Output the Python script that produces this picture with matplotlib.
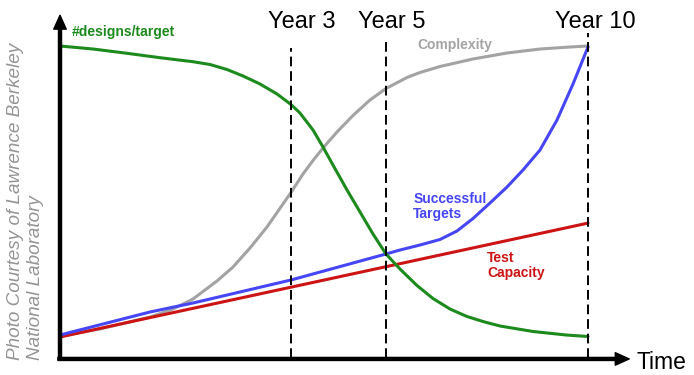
import matplotlib
matplotlib.use("Agg")
import matplotlib.pyplot as plt

# ---- data (schematic units: time 0..100, value 0..100) ----
designs_x = [0, 6.25, 12.69, 18.94, 25.19, 28.41, 31.63, 34.66, 37.88, 41.10, 43.75,
             45.45, 47.92, 49.81, 51.70, 54.36, 56.82, 59.28, 61.74, 64.39, 67.61,
             70.64, 73.86, 77.08, 80.11, 83.33, 89.58, 95.83, 100]
designs_y = [99.68, 98.72, 97.35, 95.94, 94.66, 93.77, 92.17, 90.10, 87.54, 84.35, 80.99,
             78.27, 72.84, 67.41, 61.66, 53.67, 46.65, 39.62, 33.23, 28.43, 23.16,
             19.01, 15.65, 13.26, 11.66, 10.22, 8.47, 7.35, 6.87]

complexity_x = [0, 7.58, 17.05, 21.21, 25.19, 29.73, 32.77, 35.98, 39.20, 42.23, 43.75,
                46.02, 47.92, 49.81, 52.46, 55.49, 58.71, 61.74, 65.72, 68.18, 71.97,
                78.22, 84.66, 90.91, 96.59, 100]
complexity_y = [7.03, 9.27, 13.10, 15.50, 18.85, 24.60, 29.07, 35.14, 41.85, 49.20, 52.88,
                58.79, 63.10, 67.09, 72.20, 77.48, 82.43, 86.10, 89.62, 91.21, 93.13,
                95.53, 97.44, 98.72, 99.36, 99.68]

targets_x = [0, 17.05, 25.19, 43.75, 61.74, 64.39, 68.18, 71.97, 75.19, 78.22, 81.44,
             84.66, 87.69, 90.91, 94.13, 97.16, 100]
targets_y = [7.35, 14.70, 17.57, 24.92, 33.23, 34.50, 36.10, 37.86, 40.58, 44.57, 49.52,
             54.63, 60.06, 66.45, 76.04, 87.54, 99.36]

capacity_x = [0, 100]
capacity_y = [6.7, 43.1]

year_names = ["Year 3", "Year 5", "Year 10"]
year_pos = [43.75, 61.74, 100]
year_tops = [99.0, 101.0, 103.8]
year_label_x = [45.8, 62.8, 101.3]

# ---- figure ----
fig = plt.figure(figsize=(6.94, 3.75), dpi=100)
ax = fig.add_axes([0, 0, 1, 1])
ax.set_xlim(-11.364, 120.076)
ax.set_ylim(-5.431, 114.377)
ax.axis("off")

GREEN = "#1c8a1c"
GRAY = "#a3a3a3"
BLUE = "#4646f5"
RED = "#cc1414"
LW = 2.2
common = dict(lw=LW, solid_capstyle="round", solid_joinstyle="round")

ax.plot(complexity_x, complexity_y, color=GRAY, zorder=2, **common)
ax.plot(capacity_x, capacity_y, color=RED, zorder=3, **common)
ax.plot(targets_x, targets_y, color=BLUE, zorder=4, **common)
ax.plot(designs_x, designs_y, color=GREEN, zorder=5, **common)

# dashed year markers
for name, xp, top, lx in zip(year_names, year_pos, year_tops, year_label_x):
    ax.plot([xp, xp], [0, top], color="black", lw=1.4, ls=(0, (5, 2.5)), zorder=6)
    ax.text(lx, 105.4, name, ha="center", va="baseline", fontsize=17,
            family="Liberation Sans")

# axes with arrows
arrow = dict(width=2.2, headwidth=9, headlength=10, shrink=0, color="black")
ax.annotate("", xy=(0, 109.5), xytext=(0, -0.7), arrowprops=arrow, zorder=7)
ax.annotate("", xy=(107.8, -0.3), xytext=(-0.4, -0.3), arrowprops=arrow, zorder=7)
ax.text(109.1, -3.4, "Time", ha="left", va="baseline", fontsize=16.5,
        family="Liberation Sans")

# series labels
ax.text(2.3, 104.2, "#designs/target", color=GREEN, fontsize=10, fontweight="bold",
        ha="left", va="center", family="Liberation Sans")
ax.text(67.6, 100.0, "Complexity", color=GRAY, fontsize=10, fontweight="bold",
        ha="left", va="center", family="Liberation Sans")
ax.text(66.9, 48.4, "Successful\nTargets", color=BLUE, fontsize=10, fontweight="bold",
        ha="left", va="center", family="Liberation Sans", linespacing=1.15)
ax.text(80.9, 29.6, "Test\nCapacity", color=RED, fontsize=10, fontweight="bold",
        ha="left", va="center", family="Liberation Sans", linespacing=1.15)

# credit
ax.text(-8.5, -0.6, "Photo Courtesy of Lawrence Berkeley", rotation=90, color="#949494",
        fontsize=13.6, style="italic", ha="center", va="bottom", family="Liberation Sans")
ax.text(-4.55, -0.6, "National Laboratory", rotation=90, color="#949494",
        fontsize=13.6, style="italic", ha="center", va="bottom", family="Liberation Sans")

fig.savefig("out.png", dpi=100)
